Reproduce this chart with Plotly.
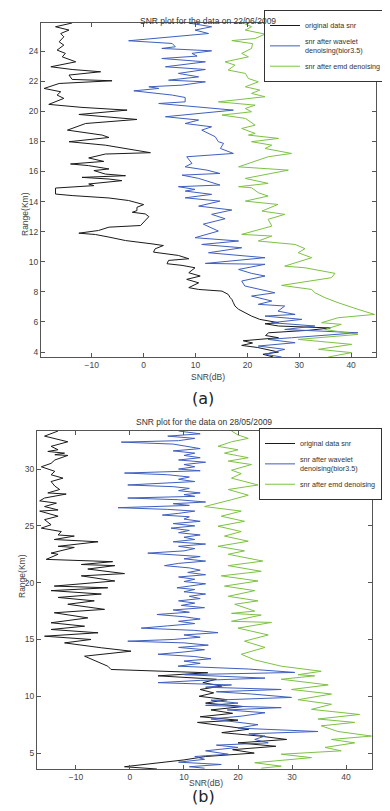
import plotly.graph_objects as go

# ---------------- (a) 22/06/2009 ----------------
a_black_snr = [-13.8,-17.0,-14.4,-16.0,-15.4,-16.3,-15.4,-16.7,-15.1,-15.7,-13.1,-17.9,-13.8,-8.3,-14.4,-13.8,-6.1,-16.3,-19.2,-16.0,
               -16.7,-15.4,-18.3,-11.9,-3.2,-12.5,-1.3,-11.2,-14.7,-8.0,-6.7,-14.4,-7.4,1.3,-7.4,-10.6,-7.7,-14.1,-10.6,-6.7,
               -9.6,-7.4,-3.5,-11.9,-6.7,-4.2,-10.6,-9.6,-17.0,-17.0,-13.8,-6.7,-2.9,-1.6,0.0,-1.3,-1.3,-2.2,0.3,1.0,
               0.3,-0.6,-6.7,-8.7,-12.5,-9.3,-6.7,-3.5,1.6,3.8,2.2,1.9,6.7,8.7,4.8,4.5,7.4,9.9,8.7,10.9,
               8.3,10.6,8.7,10.6,15.1,16.3,16.7,17.0,17.3,17.6,18.3,19.5,20.8,22.4,24.7,26.0,23.4,26.0,36.0,32.0,
               24.1,23.5,26.0,19.2,21.0,18.9,22.0,26.0,23.0,25.0]
a_black_rng = [25.87,25.62,25.40,25.17,24.95,24.62,24.40,24.07,23.85,23.62,23.29,22.96,22.78,22.63,22.41,22.12,22.03,21.85,21.52,21.30,
               21.08,20.86,20.46,20.26,20.08,19.79,19.46,19.19,18.75,18.42,18.26,17.98,17.75,17.25,17.16,16.90,16.67,16.50,16.39,16.17,
               16.06,15.83,15.72,15.61,15.50,15.39,15.17,15.06,14.90,14.50,14.40,14.24,14.07,13.96,13.80,13.62,13.40,13.29,13.18,13.00,
               12.74,12.41,12.30,12.08,11.90,11.81,11.64,11.41,11.19,11.08,10.86,10.64,10.42,10.20,10.09,9.87,9.76,9.60,9.27,9.05,
               8.83,8.60,8.28,8.16,8.05,7.83,7.61,7.50,7.28,7.06,6.84,6.61,6.39,6.17,6.06,5.95,5.88,5.73,5.60,5.45,
               5.28,5.10,4.95,4.75,4.60,4.44,4.30,4.00,3.85,3.67]

a_blue_snr = [8.7,13.1,9.9,12.5,-2.9,5.5,6.1,3.5,13.1,9.3,10.3,3.5,11.9,7.4,4.2,11.9,6.7,10.6,4.8,11.9,
              7.4,1.0,2.9,-1.9,5.5,8.0,8.0,2.9,10.6,17.3,4.2,10.6,8.0,13.1,11.2,13.8,14.4,15.4,14.8,17.3,
              8.3,9.3,8.0,12.2,14.7,7.4,10.6,14.7,6.7,9.9,8.0,13.1,8.0,14.7,10.6,17.0,13.1,15.7,11.5,14.4,
              9.9,18.3,11.2,18.9,12.5,23.4,11.9,23.4,18.3,20.8,23.4,18.9,19.5,25.3,20.8,24.7,22.1,27.2,25.9,29.2,
              23.4,30.5,24.7,33.0,27.2,41.3,28.5,24.0,29.2,22.1,27.2,23.4,26.6]
a_blue_rng = [25.87,25.62,25.40,25.17,24.69,24.51,24.29,24.18,24.02,23.85,23.67,23.51,23.29,23.11,22.96,22.78,22.52,22.29,22.07,21.96,
              21.74,21.63,21.52,21.36,21.08,20.92,20.63,20.52,20.30,20.08,19.64,19.42,19.19,18.97,18.75,18.31,17.98,17.87,17.53,17.20,
              16.98,16.54,16.31,16.09,15.87,15.76,15.54,15.10,14.99,14.81,14.70,14.48,14.25,14.03,13.70,13.44,13.15,12.86,12.50,12.04,
              11.60,11.38,11.15,10.93,10.60,10.27,9.89,9.83,9.49,9.23,9.05,8.72,8.39,7.94,7.72,7.39,7.17,7.06,6.72,6.50,
              6.39,6.17,5.95,5.73,5.50,5.28,4.95,4.84,4.62,4.40,4.18,3.85,3.67]

a_green_snr = [19.2,20.8,19.6,23.4,21.5,17.0,21.0,20.8,18.9,20.2,15.7,17.6,16.3,19.6,20.2,22.1,19.6,22.4,20.8,23.4,
               14.4,21.5,19.6,20.8,15.1,19.6,21.5,18.9,21.5,20.2,26.0,20.8,24.7,23.4,28.5,24.0,18.3,27.9,19.6,24.0,
               18.3,20.8,22.1,24.0,19.6,25.9,22.8,27.2,24.0,24.7,18.9,24.7,22.1,29.2,31.1,29.8,32.4,27.2,31.1,36.9,
               36.2,26.6,32.4,33.0,35.0,37.5,41.3,44.5,37.5,34.3,38.1,34.9,41.3,29.8,40.1,33.7,40.1,35.6]
a_green_rng = [25.87,25.62,25.40,25.13,24.84,24.70,24.50,24.18,23.85,23.62,23.29,23.07,22.74,22.52,22.18,21.96,21.63,21.41,21.19,20.97,
               20.63,20.41,20.19,19.97,19.75,19.53,19.08,18.86,18.53,18.42,18.20,17.98,17.75,17.53,17.20,16.98,16.31,16.09,15.54,15.21,
               14.99,14.92,14.59,14.37,14.03,13.81,13.37,13.15,12.82,12.37,11.82,11.71,11.38,11.15,10.87,10.60,10.27,9.71,9.60,9.23,
               8.94,8.43,8.16,7.94,7.61,7.28,6.84,6.50,6.28,5.95,5.84,5.50,5.17,4.84,4.51,4.18,3.96,3.67]

# ---------------- (b) 28/05/2009 ----------------
b_black_snr = [-13.3,-15.8,-11.5,-14.6,-13.3,-15.2,-12.1,-13.9,-11.5,-13.9,-14.6,-16.4,-13.9,-14.6,-12.4,-14.6,-13.9,-13.0,-15.2,-11.8,
               -15.8,-16.7,-13.6,-15.8,-13.3,-16.7,-13.3,-15.8,-14.6,-16.4,-12.7,-13.3,-10.3,-14.0,-5.9,-13.3,-10.3,-14.6,-13.3,-15.5,
               -3.2,-9.0,-2.8,-7.8,-1.0,-9.0,-2.8,-14.0,-4.1,-14.6,-5.3,-13.3,-6.6,-11.5,-4.7,-14.0,-7.8,-14.6,-8.4,-14.6,
               -5.9,-15.8,-7.2,-12.1,-5.3,0.2,-8.4,-4.1,-3.5,14.4,5.2,16.0,13.5,17.0,13.0,15.5,12.8,18.0,14.0,21.0,
               15.0,19.0,13.0,20.0,12.5,17.0,22.0,17.0,24.0,29.0,20.0,27.0,19.0,23.0,14.0,10.0,5.0,-1.0,5.0]
b_black_rng = [33.35,32.90,32.40,32.00,31.70,31.55,31.40,31.26,31.20,30.80,30.50,30.20,29.80,29.50,29.20,28.90,28.50,28.20,27.90,27.80,
               27.45,27.20,27.00,26.70,26.40,26.30,25.85,25.55,25.10,24.80,24.50,24.20,24.10,23.80,23.60,23.20,23.10,22.60,22.50,22.05,
               21.85,21.60,21.50,21.20,20.80,20.60,20.15,19.70,19.55,19.30,19.00,18.70,18.40,18.10,17.65,17.35,16.90,16.47,16.17,15.88,
               15.59,15.29,15.00,14.70,14.27,13.97,13.53,12.65,12.36,12.07,11.80,11.50,11.20,10.90,10.60,10.30,10.00,9.70,9.40,9.10,
               8.80,8.50,8.20,7.90,7.70,7.40,7.10,6.80,6.50,6.20,5.90,5.60,5.30,5.00,4.70,4.40,4.10,3.80,3.60]

b_blue_snr = [9,13,7,12,9,-1.6,8,11,13,8,12,10,13,9,14,10,12,9,13,-1.0,
              7,11,9,12,6,-0.4,8,11,9,13,10,12,-0.4,9,14,8,11,-2.2,7,12,
              9,6,11,10,13,8,12,7.6,11,9,13,10,12,8,14,9,12,10,3.3,9,
              13,10,14,9,6.4,11,13,10.7,14,9,12,10,14,11,8.7,12,10,14,11,13,
              9,12,9.5,13.8,8,11,5,10,13,9,12,7,2.1,12,16.3,10,13,8,-0.4,10,
              14.5,9,13.8,10,5.2,12,15,10,13,8.9,21.9,30.5,10.1,25,13,5.2,18.8,14,28,16,
              22.5,29.9,15,20,14,28,18,25,20.6,15,18.8,23.7,20,34.8,22,25,23.1,25.6,16,20,
              14,18.2,12,13.8,9,16.9,11,13.8]
b_blue_rng = [33.35,33.10,32.90,32.70,32.50,32.37,32.20,32.00,31.80,31.60,31.40,31.20,31.00,30.80,30.60,30.40,30.20,30.00,29.85,29.65,
              29.50,29.30,29.10,28.90,28.75,28.60,28.45,28.30,28.10,27.90,27.75,27.60,27.45,27.30,27.10,26.95,26.80,26.60,26.45,26.30,
              26.10,25.95,25.80,25.60,25.40,25.20,25.00,24.80,24.60,24.40,24.20,24.00,23.80,23.60,23.40,23.20,23.00,22.80,22.60,22.45,
              22.30,22.10,21.90,21.70,21.50,21.30,21.10,20.90,20.70,20.50,20.30,20.10,19.90,19.70,19.55,19.40,19.20,19.00,18.80,18.60,
              18.40,18.20,18.00,17.80,17.60,17.40,17.20,17.00,16.80,16.60,16.40,16.20,16.00,15.80,15.60,15.40,15.20,15.00,14.85,14.70,
              14.50,14.30,14.10,13.90,13.70,13.50,13.30,13.10,12.90,12.65,12.40,12.10,11.90,11.60,11.40,11.20,11.00,10.80,10.60,10.40,
              10.20,9.90,9.65,9.40,9.20,9.00,8.80,8.55,8.25,8.00,7.80,7.50,7.20,6.90,6.70,6.50,6.20,5.90,5.70,5.50,
              5.20,4.90,4.70,4.45,4.20,4.00,3.80,3.67]

b_green_snr = [18.8,20.0,21.9,18.8,16.3,20.0,17.5,21.9,18.2,22.5,18.8,20.6,18.8,23.7,18.2,21.9,18.8,13.8,20.6,16.9,
               21.2,16.3,20.6,17.5,21.9,16.3,21.2,18.2,24.6,18.2,24.3,16.9,23.7,17.5,23.1,18.2,23.7,19.4,23.1,18.8,
               24.3,18.8,26.2,20.0,25.6,21.2,25.0,20.6,23.1,28.0,35.4,31.1,34.2,28.0,36.7,29.9,37.3,31.1,37.3,33.6,
               42.5,34.8,41.6,35.4,38.5,44.7,37.3,41.6,36.1,39.1,28.0,33.6,23.1,28.0,24.3]
b_green_rng = [33.35,33.00,32.70,32.40,32.00,31.70,31.40,31.00,30.70,30.40,29.90,29.60,29.20,28.60,28.20,27.70,27.30,26.70,26.30,25.85,
               25.40,24.97,24.50,24.10,23.65,23.20,22.80,22.50,21.90,21.50,21.00,20.60,20.15,19.70,19.30,18.80,18.40,18.10,17.50,17.30,
               17.15,16.60,16.50,16.00,15.40,14.85,14.30,13.70,13.20,12.65,12.20,11.90,11.80,11.50,11.00,10.60,10.20,9.70,9.30,8.85,
               8.40,8.00,7.70,7.40,6.90,6.50,6.20,5.90,5.50,5.20,4.90,4.60,4.15,3.85,3.67]

names = ["original data snr", "snr after wavelet<br>denoising(bior3.5)", "snr after emd denoising"]
colors = ["#1a1a1a", "#3f5fbf", "#7dc243"]
titles = ["SNR plot for the data on 22/06/2009", "SNR plot for the data on 28/05/2009"]
y_ticks_a = [4, 6, 8, 10, 12, 14, 16, 18, 20, 22, 24]
y_ticks_b = [5, 10, 15, 20, 25, 30]
x_ticks = [-10, 0, 10, 20, 30, 40]

FONT = "Liberation Sans, Arial, sans-serif"
fig = go.Figure()

for (xs, ys), name, col in zip([(a_black_snr, a_black_rng), (a_blue_snr, a_blue_rng), (a_green_snr, a_green_rng)], names, colors):
    fig.add_trace(go.Scatter(x=xs, y=ys, mode="lines", name=name, line=dict(color=col, width=1),
                             xaxis="x", yaxis="y", legend="legend"))
for (xs, ys), name, col in zip([(b_black_snr, b_black_rng), (b_blue_snr, b_blue_rng), (b_green_snr, b_green_rng)], names, colors):
    fig.add_trace(go.Scatter(x=xs, y=ys, mode="lines", name=name, line=dict(color=col, width=1),
                             xaxis="x2", yaxis="y2", legend="legend2"))

ax_common = dict(showline=True, linecolor="#555", linewidth=1, mirror="ticks", ticks="inside", ticklen=4,
                 tickcolor="#555", showgrid=False, zeroline=False, tickfont=dict(size=8.5, color="#444", family=FONT),
                 automargin=False)

leg_common = dict(xanchor="left", yanchor="top", bgcolor="white", bordercolor="#333", borderwidth=1,
                  font=dict(size=7.2, family=FONT, color="#333"), tracegroupgap=0, itemwidth=30)

fig.update_layout(
    width=390, height=811, margin=dict(l=0, r=0, t=0, b=0, autoexpand=False),
    paper_bgcolor="white", plot_bgcolor="white",
    font=dict(family=FONT, size=9, color="#333"),
    xaxis=dict(domain=[33/390, 368/390], range=[-19.8, 44.8], tickvals=x_ticks, anchor="y", **ax_common),
    yaxis=dict(domain=[1-349/811, 1-15/811], range=[3.67, 25.87], tickvals=y_ticks_a, anchor="x", **ax_common),
    xaxis2=dict(domain=[29/390, 364/390], range=[-17.2, 44.8], tickvals=x_ticks, anchor="y2", **ax_common),
    yaxis2=dict(domain=[1-761/811, 1-423/811], range=[3.6, 33.35], tickvals=y_ticks_b, anchor="x2", **ax_common),
    legend=dict(x=256/390, y=1-2/811, **leg_common),
    legend2=dict(x=251/390, y=1-420/811, **leg_common),
    showlegend=True,
)

ann = []
ann.append(dict(text=titles[0], x=200/390, y=1-6/811, xref="paper", yref="paper", showarrow=False,
                font=dict(size=8.5, family=FONT, color="#333")))
ann.append(dict(text=titles[1], x=196/390, y=1-414/811, xref="paper", yref="paper", showarrow=False,
                font=dict(size=8.5, family=FONT, color="#333")))
ann.append(dict(text="SNR(dB)", x=200/390, y=1-369/811, xref="paper", yref="paper", showarrow=False,
                font=dict(size=8.5, family=FONT, color="#444")))
ann.append(dict(text="SNR(dB)", x=198/390, y=1-782/811, xref="paper", yref="paper", showarrow=False,
                font=dict(size=8.5, family=FONT, color="#444")))
ann.append(dict(text="Range(Km)", x=10/390, y=1-182/811, xref="paper", yref="paper", showarrow=False, textangle=-90,
                font=dict(size=8.5, family=FONT, color="#444")))
ann.append(dict(text="Range(Km)", x=7/390, y=1-592/811, xref="paper", yref="paper", showarrow=False, textangle=-90,
                font=dict(size=8.5, family=FONT, color="#444")))
ann.append(dict(text="(a)", x=195/390, y=1-391/811, xref="paper", yref="paper", showarrow=False,
                font=dict(size=16, family="DejaVu Sans, sans-serif", color="#222")))
ann.append(dict(text="(b)", x=195/390, y=1-800/811, xref="paper", yref="paper", showarrow=False,
                font=dict(size=16, family="DejaVu Sans, sans-serif", color="#222")))
fig.update_layout(annotations=ann)

fig.write_html("out.html")
